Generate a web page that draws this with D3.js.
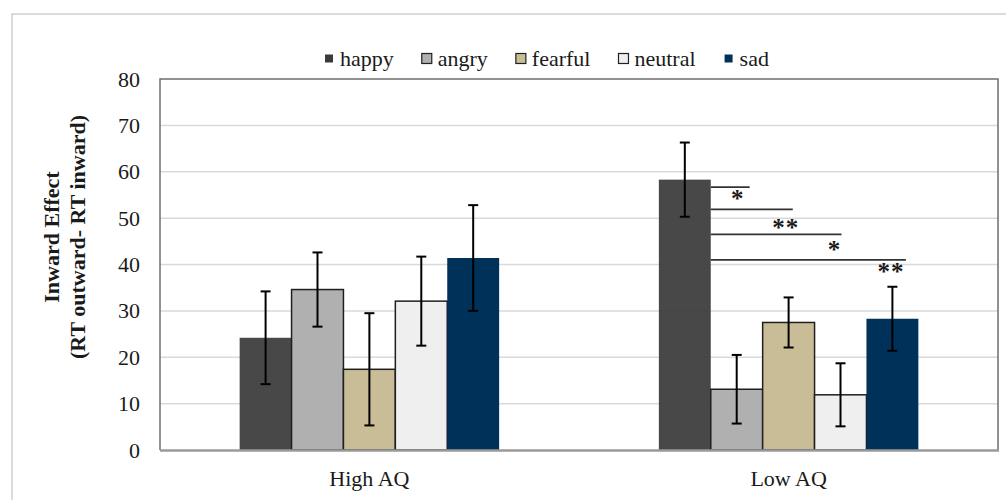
<!DOCTYPE html>
<html>
<head>
<meta charset="utf-8">
<script src="https://cdn.jsdelivr.net/npm/d3@7/dist/d3.min.js"></script>
<style>
  html, body { margin: 0; padding: 0; background: #fff; }
  svg { display: block; }
</style>
</head>
<body>
<svg id="chart" width="1006" height="500"></svg>
<script>
// ─── Data ────────────────────────────────────────────────────────────────────
const groups = ['High AQ', 'Low AQ'];
const emotions = ['happy', 'angry', 'fearful', 'neutral', 'sad'];
const highAQ = [24.2, 34.6, 17.4, 32.1, 41.4];
const highAQErr = [10.0, 8.0, 12.1, 9.6, 11.4];
const lowAQ = [58.3, 13.1, 27.5, 11.9, 28.3];
const lowAQErr = [8.0, 7.4, 5.4, 6.8, 6.9];
const yTicks = [0, 10, 20, 30, 40, 50, 60, 70, 80];

// significance brackets in Low AQ (happy vs others)
const sigTargets = ['angry', 'fearful', 'neutral', 'sad'];
const sigLevels = [56.7, 51.9, 46.5, 41.0];
const sigLabels = ['*', '**', '*', '**'];

// ─── Style ───────────────────────────────────────────────────────────────────
const C = {
  fill:   { happy: '#3a3a3a', angry: '#b0b0b0', fearful: '#c9bd97', neutral: '#efefef', sad: '#003158' },
  stroke: { happy: 'none', angry: '#1f1f1f', fearful: '#1f1f1f', neutral: '#1f1f1f', sad: 'none' },
  grid:   '#d9d9d9',
  frame:  '#6e6e6e',
  text:   '#1a1a1a',
  font:   '"Liberation Serif", "Times New Roman", serif',
};
// hand-placed bracket ends / star offsets, as in the original figure
const sigEndFrac = [0.75, 0.58, 0.52, 0.76];
const sigStarDx = [-12, -7, -7, -15];
const sigStarDy = [7, 14, 11, 7];

const svg = d3.select('#chart');
const M = { left: 160, right: 998, top: 79, bottom: 450 };

// outer light frame
svg.append('rect').attr('x', 12).attr('y', 14).attr('width', 1100).attr('height', 600)
  .attr('fill', 'none').attr('stroke', '#cfcfcf').attr('stroke-width', 1.5);

const y = d3.scaleLinear().domain([0, 80]).range([M.bottom, M.top]);
const x0 = d3.scaleBand().domain(groups).range([M.left, M.right])
  .paddingInner(0.381).paddingOuter(0.19);
const x1 = d3.scaleBand().domain(emotions).range([0, x0.bandwidth()]);

// gridlines
svg.selectAll('line.grid').data(yTicks.filter(t => t > 0 && t < 80)).enter().append('line')
  .attr('x1', M.left).attr('x2', M.right)
  .attr('y1', d => y(d)).attr('y2', d => y(d))
  .attr('stroke', C.grid).attr('stroke-width', 1.5);

// y tick labels
svg.selectAll('text.ytick').data(yTicks).enter().append('text')
  .attr('x', 140).attr('y', d => y(d) + 7.5)
  .attr('text-anchor', 'end').attr('font-size', 22)
  .attr('font-family', C.font).attr('fill', C.text)
  .text(d => d);

// bars
const series = { 'High AQ': [highAQ, highAQErr], 'Low AQ': [lowAQ, lowAQErr] };
groups.forEach(g => {
  const [vals, errs] = series[g];
  const cluster = svg.append('g').attr('transform', `translate(${x0(g)},0)`);
  emotions.forEach((e, i) => {
    cluster.append('rect')
      .attr('x', x1(e)).attr('y', y(vals[i]))
      .attr('width', x1.bandwidth()).attr('height', y(0) - y(vals[i]))
      .attr('fill', C.fill[e]).attr('fill-opacity', e === 'happy' ? 0.93 : 1)
      .attr('stroke', C.stroke[e]).attr('stroke-width', 1.5);
  });
  // error bars
  emotions.forEach((e, i) => {
    const cx = x1(e) + x1.bandwidth() / 2;
    const hi = y(vals[i] + errs[i]), lo = y(vals[i] - errs[i]);
    cluster.append('line').attr('x1', cx).attr('x2', cx).attr('y1', hi).attr('y2', lo)
      .attr('stroke', '#000').attr('stroke-width', 2);
    [hi, lo].forEach(yy => cluster.append('line')
      .attr('x1', cx - 5).attr('x2', cx + 5).attr('y1', yy).attr('y2', yy)
      .attr('stroke', '#000').attr('stroke-width', 2));
  });
});

// plot frame + x axis
svg.append('path')
  .attr('d', `M${M.left},${M.bottom} V${M.top} H${M.right} V${M.bottom}`)
  .attr('fill', 'none').attr('stroke', C.frame).attr('stroke-width', 1.5);
svg.append('line').attr('x1', M.left).attr('x2', M.right + 1)
  .attr('y1', M.bottom + 0.5).attr('y2', M.bottom + 0.5)
  .attr('stroke', '#9a9a9a').attr('stroke-width', 2.5);

// x labels
svg.selectAll('text.xlab').data(groups).enter().append('text')
  .attr('x', d => x0(d) + x0.bandwidth() / 2).attr('y', 486)
  .attr('text-anchor', 'middle').attr('font-size', 22)
  .attr('font-family', C.font).attr('fill', C.text)
  .text(d => d);

// significance brackets
const lowX = x0('Low AQ');
const startX = lowX + x1('happy') + x1.bandwidth();
sigTargets.forEach((t, i) => {
  const endX = lowX + x1(t) + x1.bandwidth() * sigEndFrac[i];
  const yy = y(sigLevels[i]);
  svg.append('line').attr('x1', startX).attr('x2', endX).attr('y1', yy).attr('y2', yy)
    .attr('stroke', '#333').attr('stroke-width', 1.8);
  svg.append('text')
    .attr('x', endX + sigStarDx[i]).attr('y', yy + sigStarDy[i] + 13)
    .attr('text-anchor', 'middle').attr('font-size', 25).attr('font-weight', 700)
    .attr('letter-spacing', 1)
    .attr('font-family', C.font).attr('fill', C.text)
    .text(sigLabels[i]);
});

// y axis title
const yTitle = svg.append('text')
  .attr('transform', 'translate(0,237) rotate(-90)')
  .attr('text-anchor', 'middle').attr('font-size', 22).attr('font-weight', 700)
  .attr('font-family', C.font).attr('fill', C.text);
yTitle.append('tspan').attr('x', 0).attr('y', 59).text('Inward Effect');
yTitle.append('tspan').attr('x', 0).attr('y', 85).text('(RT outward- RT inward)');

// legend
const legend = svg.append('g').attr('transform', 'translate(324,0)');
let lx = 0;
emotions.forEach(e => {
  const bordered = C.stroke[e] !== 'none';
  legend.append('rect')
    .attr('x', lx + (bordered ? 0 : 1)).attr('y', bordered ? 53.5 : 54.5)
    .attr('width', bordered ? 10 : 8).attr('height', bordered ? 10 : 8)
    .attr('fill', C.fill[e]).attr('stroke', bordered ? '#222' : 'none').attr('stroke-width', 1.2);
  const t = legend.append('text')
    .attr('x', lx + 16).attr('y', 66)
    .attr('font-size', 22).attr('font-family', C.font).attr('fill', C.text)
    .text(e);
  lx += 16 + t.node().getComputedTextLength() + 28;
});
</script>
</body>
</html>
